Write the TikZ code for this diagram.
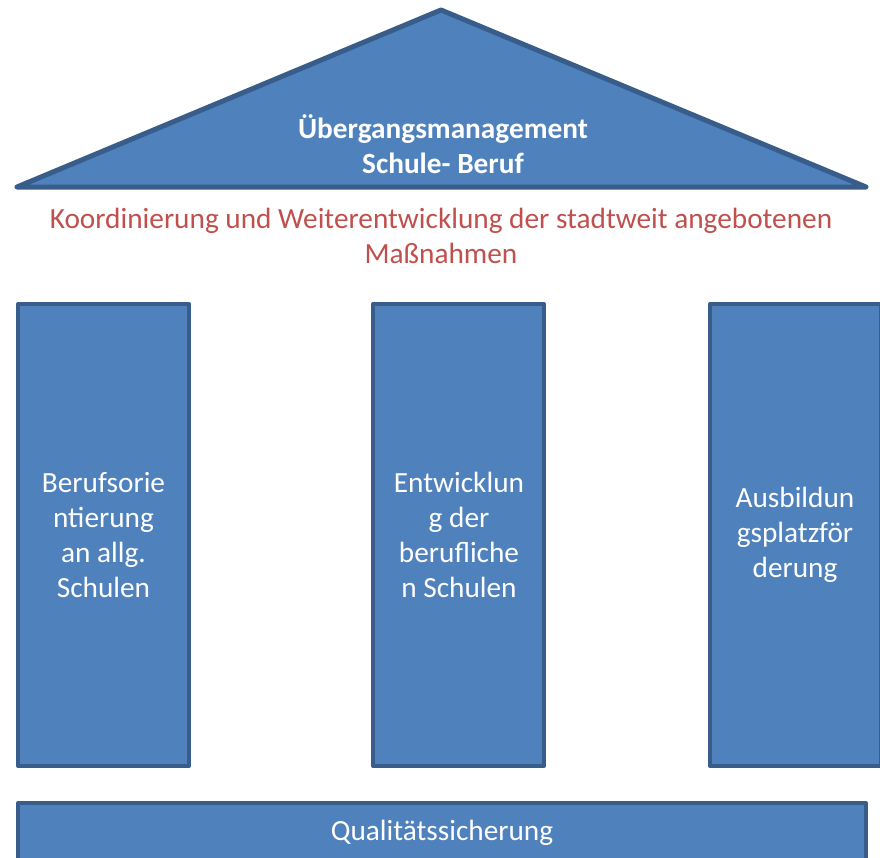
\documentclass[tikz,border=0pt]{standalone}
\usepackage{fontspec}
\setmainfont{Carlito}
\definecolor{fillblue}{HTML}{4F81BD}
\definecolor{lineblue}{HTML}{385D8A}
\definecolor{textred}{HTML}{C0504D}
\tikzset{
  part/.style={fill=fillblue, draw=lineblue, line width=4pt, line join=round},
  lbl/.style={text=white, font=\fontsize{29.3}{35}\selectfont, align=center},
}
\begin{document}
\begin{tikzpicture}[x=1pt,y=-1pt]
  \useasboundingbox (0,0) rectangle (880,857);
  % roof
  \draw[part, line width=5pt] (17,187) -- (441,10) -- (866,187) -- cycle;
  \node[lbl, font=\fontsize{29.3}{35}\selectfont\bfseries] (roof) at (443,144)
    {Übergangsmanagement\\Schule- Beruf};
  \node[text=textred, font=\fontsize{29.3}{35}\selectfont, align=center] (task) at (441,236)
    {Koordinierung und Weiterentwicklung der stadtweit angebotenen\\Maßnahmen};
  % pillars
  \foreach \x in {18,373,710} {
    \draw[part] (\x,304) rectangle (\x+171,766);
  }
  \node[lbl] (pillarA) at (103.5,535) {Berufsorie\\ntierung\\an allg.\\Schulen};
  \node[lbl] (pillarB) at (459,535) {Entwicklun\\g der\\berufliche\\n Schulen};
  \node[lbl] (pillarC) at (795,535) {Ausbildun\\gsplatzför\\derung};
  % base
  \draw[part] (18,803) rectangle (866,900);
  \node[lbl] (base) at (442,833) {Qualitätssicherung};
\end{tikzpicture}
\end{document}
